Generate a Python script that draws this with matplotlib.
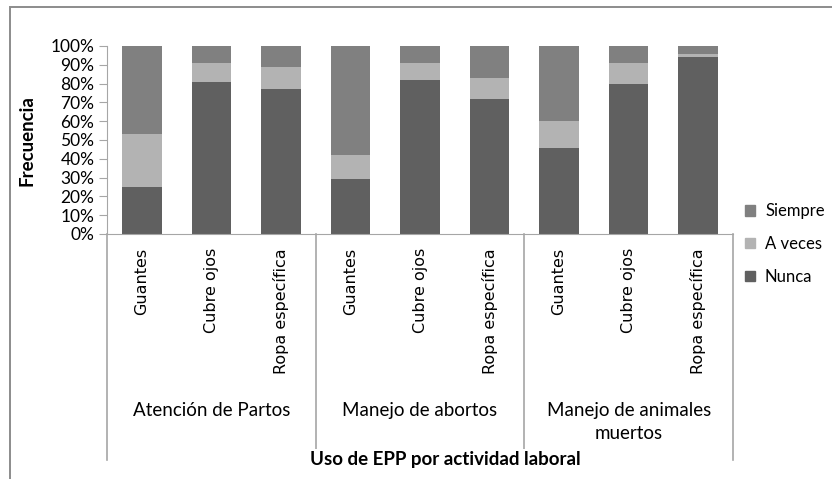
import matplotlib.pyplot as plt
from matplotlib.patches import Patch, Rectangle
from matplotlib.transforms import blended_transform_factory

# data (percent per bar)
groups = ["Atención de Partos", "Manejo de abortos", "Manejo de animales\nmuertos"]
items = ["Guantes", "Cubre ojos", "Ropa específica"]
nunca = [25, 81, 77, 29, 82, 72, 46, 80, 94]
a_veces = [28, 10, 12, 13, 9, 11, 14, 11, 2]
siempre = [47, 9, 11, 58, 9, 17, 40, 9, 4]
yticks = list(range(0, 101, 10))

C_NUNCA = "#606060"
C_AVECES = "#b3b3b3"
C_SIEMPRE = "#808080"
LINE = "#a6a6a6"

W, H = 832, 479
fig = plt.figure(figsize=(W / 100, H / 100), dpi=100)
fig.patches.append(Rectangle((10 / W, -0.1), 1.2, 1 - 7 / H + 0.1, transform=fig.transFigure,
                             fill=False, ec="#8c8c8c", lw=1.4))

ax = fig.add_axes([107 / W, 1 - 234 / H, 626 / W, (234 - 46) / H])
labels = items * len(groups)
x = list(range(len(labels)))
bw = 0.57
ax.bar(x, nunca, bw, color=C_NUNCA, label="Nunca")
ax.bar(x, a_veces, bw, bottom=nunca, color=C_AVECES, label="A veces")
bottom2 = [a + b for a, b in zip(nunca, a_veces)]
ax.bar(x, siempre, bw, bottom=bottom2, color=C_SIEMPRE, label="Siempre")

ax.set_xlim(-0.5, len(labels) - 0.5)
ax.set_ylim(0, 100)
ax.set_yticks(yticks)
ax.set_yticklabels([f"{t}%" for t in yticks], fontsize=12.5, family="Lato")
ax.tick_params(axis="y", length=6, color=LINE, pad=3)
ax.set_xticks(x)
ax.set_xticklabels(labels, rotation=90, fontsize=11.5, va="top")
ax.tick_params(axis="x", length=0, pad=10)
for s in ["top", "right"]:
    ax.spines[s].set_visible(False)
ax.spines["left"].set_color(LINE)
ax.spines["bottom"].set_color(LINE)

# multi-level category separators below the axis
tr = blended_transform_factory(ax.transData, ax.transAxes)
depth = -(460 - 234) / (234 - 46)
for i in range(len(groups) + 1):
    xs = i * len(items) - 0.5
    ax.plot([xs, xs], [0, depth], transform=tr, color=LINE, lw=1.2, clip_on=False)

for g, name in enumerate(groups):
    ax.text(g * len(items) + 1, -(402 - 234) / (234 - 46), name, transform=tr,
            ha="center", va="top", fontsize=13.5, family="Lato", linespacing=1.45)

fig.text(445 / W, 1 - 459 / H, "Uso de EPP por actividad laboral", ha="center", va="center",
         fontsize=13.5, fontweight="bold", family="Lato",
         bbox=dict(fc="white", ec="none", pad=1), zorder=5)
fig.text(27 / W, 1 - 141 / H, "Frecuencia", ha="center", va="center", rotation=90,
         fontsize=13.5, fontweight="bold", family="Lato")

handles = [Patch(color=C_SIEMPRE), Patch(color=C_AVECES), Patch(color=C_NUNCA)]
fig.legend(handles, ["Siempre", "A veces", "Nunca"], loc="center left",
           bbox_to_anchor=(730 / W, 1 - 244 / H), frameon=False,
           prop={"family": "Lato", "size": 12}, handlelength=0.6, handleheight=0.6,
           labelspacing=1.0, handletextpad=0.6)

fig.savefig("out.png", dpi=100)
